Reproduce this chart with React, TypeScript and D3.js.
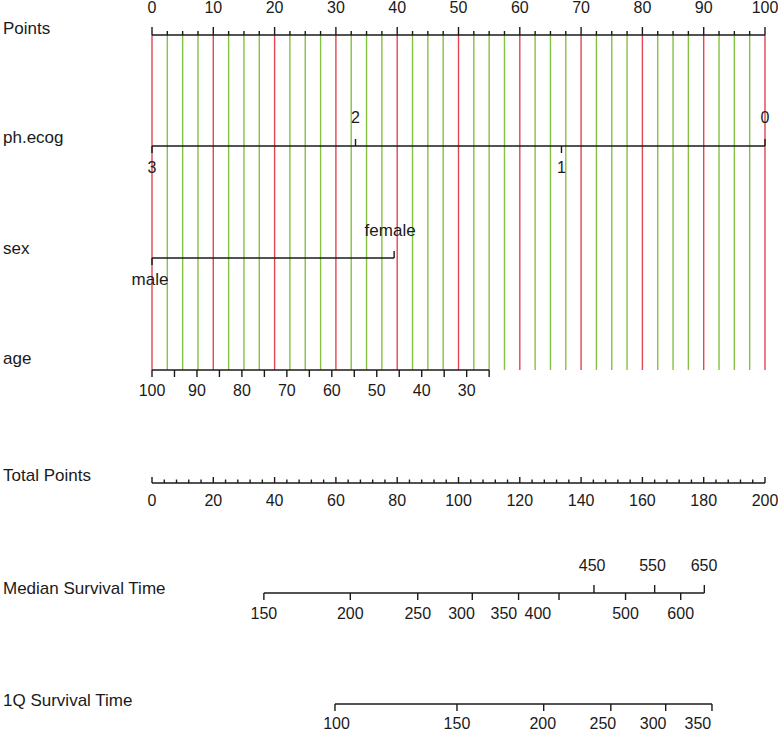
import React from 'react';
import * as d3 from 'd3';

// nomogram values
const pointsMajor = d3.range(0, 101, 10);
const pointsMinor = d3.range(0, 100.1, 2.5);

const ecogLevels = ['0', '1', '2', '3'];
const ecogPts = [100, 66.8, 33.2, 0];
const ecogUp = ['0', '2'];

const sexLevels = ['male', 'female'];
const sexPts = [0, 39.5];

const ageTicks = d3.range(100, 24, -5);
const ageLabels = [100, 90, 80, 70, 60, 50, 40, 30];
const ageDomain = [100, 25];
const agePtsRange = [0, 55];

const totalMajor = d3.range(0, 201, 20);
const totalMinor = d3.range(0, 200.1, 4);

const medianTimes = [150, 200, 250, 300, 350, 400, 450, 500, 550, 600, 650];
const medianPts = [36.5, 64.7, 86.7, 104.5, 119.6, 132.8, 144.2, 154.5, 164.0, 172.5, 180.2];
const medianLabelPts = [36.5, 64.7, 86.7, 101.0, 114.8, 125.9, 143.6, 154.5, 163.3, 172.5, 180.1];
const medianUp = [450, 550, 650];

const q1Times = [100, 150, 200, 250, 300, 350];
const q1Pts = [59.7, 99.5, 127.8, 149.7, 167.6, 182.7];
const q1LabelPts = [60.2, 99.5, 127.5, 147.1, 163.5, 178.1];

const rowNames = ['Points', 'ph.ecog', 'sex', 'age', 'Total Points', 'Median Survival Time', '1Q Survival Time'];

// layout
const rowY = [35, 146, 258, 370, 483, 593, 704];
const nameY = [34, 143, 254, 364, 481, 594, 706];
const width = 778;
const height = 735;
const font = '"Liberation Sans", Arial, Helvetica, sans-serif';
const fs = 16;
const fsName = 17;
const ink = '#1a1a1a';
const red = '#e2474f';
const green = '#86c242';

export default function App() {
    const x = d3.scaleLinear().domain([0, 100]).range([152, 765]);
    const xt = d3.scaleLinear().domain([0, 200]).range([152, 765]);
    const agePts = d3.scaleLinear().domain(ageDomain).range(agePtsRange);

    const [yPts, yEcog, ySex, yAge, yTot, yMed, yQ1] = rowY;

    const lbl = (tx: number, ty: number, s: string | number, key: string, size = fs) => (
        <text key={key} x={tx} y={ty} textAnchor="middle" fontSize={size} fontFamily={font} fill={ink}>{s}</text>
    );

    return (
        <svg width={width} height={height} style={{ position: 'absolute', left: 0, top: 0, background: '#fff' }}>
            {/* row names */}
            {rowNames.map((n, i) => (
                <text key={n} x={3} y={nameY[i]} fontSize={fsName} fontFamily={font} fill={ink}>{n}</text>
            ))}

            {/* reference lines */}
            {pointsMinor.filter(p => p % 10 !== 0).map(p => (
                <line key={'g' + p} x1={x(p)} x2={x(p)} y1={yPts} y2={yAge} stroke={green} strokeWidth={1.4} />
            ))}
            {pointsMajor.map(p => (
                <line key={'r' + p} x1={x(p)} x2={x(p)} y1={yPts} y2={yAge} stroke={red} strokeWidth={1.4} />
            ))}

            {/* Points axis */}
            <g stroke={ink} strokeWidth={1.4}>
                <line x1={x(0)} x2={x(100)} y1={yPts} y2={yPts} />
                {pointsMinor.map(p => (
                    <line key={p} x1={x(p)} x2={x(p)} y1={yPts} y2={yPts - (p % 10 === 0 ? 8 : 4)} />
                ))}
            </g>
            {pointsMajor.map(p => lbl(x(p), 13, p, 'pl' + p))}

            {/* ph.ecog */}
            <g stroke={ink} strokeWidth={1.4}>
                <line x1={x(d3.min(ecogPts)!)} x2={x(d3.max(ecogPts)!)} y1={yEcog} y2={yEcog} />
                {ecogLevels.map((l, i) => (
                    <line key={l} x1={x(ecogPts[i])} x2={x(ecogPts[i])} y1={yEcog}
                        y2={ecogUp.includes(l) ? yEcog - 7 : yEcog + 7} />
                ))}
            </g>
            {ecogLevels.map((l, i) => lbl(x(ecogPts[i]), ecogUp.includes(l) ? yEcog - 23 : yEcog + 27, l, 'el' + l))}

            {/* sex */}
            <g stroke={ink} strokeWidth={1.4}>
                <line x1={x(sexPts[0])} x2={x(sexPts[1])} y1={ySex} y2={ySex} />
                <line x1={x(sexPts[0])} x2={x(sexPts[0])} y1={ySex} y2={ySex + 7} />
                <line x1={x(sexPts[1])} x2={x(sexPts[1])} y1={ySex} y2={ySex - 7} />
            </g>
            {lbl(x(sexPts[0]) - 2, ySex + 27, sexLevels[0], 'male', fsName)}
            {lbl(x(sexPts[1]) - 4, ySex - 22, sexLevels[1], 'female', fsName)}

            {/* age */}
            <g stroke={ink} strokeWidth={1.4}>
                <line x1={x(agePts(ageDomain[0]))} x2={x(agePts(ageDomain[1]))} y1={yAge} y2={yAge} />
                {ageTicks.map(a => (
                    <line key={a} x1={x(agePts(a))} x2={x(agePts(a))} y1={yAge} y2={yAge + 7} />
                ))}
            </g>
            {ageLabels.map(a => lbl(x(agePts(a)), yAge + 26, a, 'al' + a))}

            {/* Total Points */}
            <g stroke={ink} strokeWidth={1.4}>
                <line x1={xt(0)} x2={xt(200)} y1={yTot} y2={yTot} />
                {totalMinor.map(p => (
                    <line key={p} x1={xt(p)} x2={xt(p)} y1={yTot} y2={yTot - (p % 20 === 0 ? 6 : 3.5)} />
                ))}
            </g>
            {totalMajor.map(p => lbl(xt(p), yTot + 23, p, 'tl' + p))}

            {/* Median survival */}
            <g stroke={ink} strokeWidth={1.4}>
                <line x1={xt(medianPts[0])} x2={xt(medianPts[medianPts.length - 1])} y1={yMed} y2={yMed} />
                {medianTimes.map((t, i) => (
                    <line key={t} x1={xt(medianPts[i])} x2={xt(medianPts[i])} y1={yMed}
                        y2={medianUp.includes(t) ? yMed - 8 : yMed + 7} />
                ))}
            </g>
            {medianTimes.map((t, i) => lbl(xt(medianLabelPts[i]), medianUp.includes(t) ? yMed - 22 : yMed + 26, t, 'ml' + t))}

            {/* 1Q survival */}
            <g stroke={ink} strokeWidth={1.4}>
                <line x1={xt(q1Pts[0])} x2={xt(q1Pts[q1Pts.length - 1])} y1={yQ1} y2={yQ1} />
                {q1Times.map((t, i) => (
                    <line key={t} x1={xt(q1Pts[i])} x2={xt(q1Pts[i])} y1={yQ1} y2={yQ1 + 7} />
                ))}
            </g>
            {q1Times.map((t, i) => lbl(xt(q1LabelPts[i]), yQ1 + 25, t, 'ql' + t))}
        </svg>
    );
}
